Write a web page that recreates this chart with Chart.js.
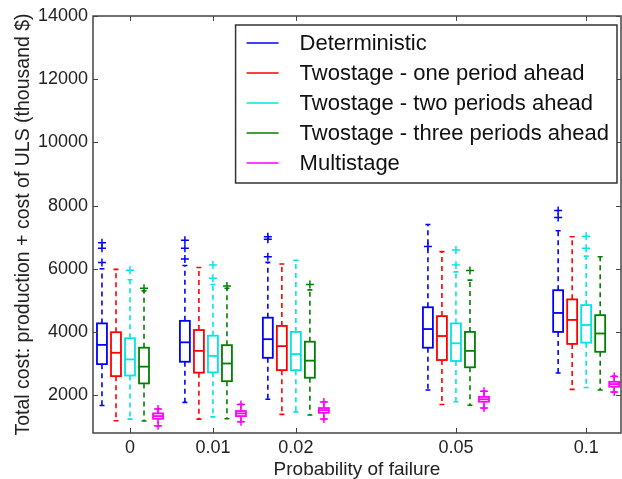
<!DOCTYPE html>
<html>
<head>
<meta charset="utf-8">
<script src="https://cdn.jsdelivr.net/npm/chart.js@4.4.0/dist/chart.umd.min.js"></script>
<style>
  html, body { margin: 0; padding: 0; background: #fff; }
</style>
</head>
<body>
<canvas id="box-chart" width="622" height="479"></canvas>
<script>
// categorias del eje x y su posicion en el eje
var categories = ['0', '0.01', '0.02', '0.05', '0.1'];
var positions = [1, 2, 3, 4.93, 6.5];
var yTicks = [2000, 4000, 6000, 8000, 10000, 12000, 14000];

var seriesNames = [
  'Deterministic',
  'Twostage - one period ahead',
  'Twostage - two periods ahead',
  'Twostage - three periods ahead',
  'Multistage'
];
var seriesColors = ['#0000ff', '#ff0000', '#00e5e5', '#008000', '#ff00ff'];

// por categoria: [bigote inferior, q1, mediana, q3, bigote superior]
var deterministic = [
  [1670, 2980, 3590, 4270, 6000],
  [1770, 3055, 3670, 4350, 6100],
  [1870, 3180, 3770, 4450, 6200],
  [2160, 3500, 4090, 4780, 7400],
  [2700, 4000, 4600, 5320, 7200]
];
var oneAhead = [
  [1190, 2600, 3340, 3990, 5980],
  [1240, 2710, 3400, 4060, 6040],
  [1390, 2790, 3550, 4190, 6150],
  [1700, 3110, 3870, 4500, 6540],
  [2180, 3620, 4380, 5030, 7010]
];
var twoAhead = [
  [1240, 2620, 3130, 3800, 5650],
  [1310, 2720, 3240, 3880, 5500],
  [1470, 2790, 3300, 4000, 6270],
  [1790, 3080, 3640, 4270, 5900],
  [2240, 3660, 4220, 4850, 6400]
];
var threeAhead = [
  [1180, 2370, 2900, 3500, 5300],
  [1250, 2440, 3000, 3580, 5380],
  [1370, 2550, 3090, 3690, 5330],
  [1680, 2880, 3400, 4000, 5640],
  [2160, 3370, 3950, 4530, 6380]
];
var multistage = [
  [1020, 1250, 1335, 1420, 1570],
  [1155, 1335, 1420, 1495, 1705],
  [1230, 1440, 1525, 1590, 1790],
  [1580, 1790, 1870, 1945, 2130],
  [2095, 2265, 2350, 2420, 2600]
];

// valores atipicos (+)
var deterministicOut = [[6200, 6650, 6820], [6310, 6650, 6900], [6380, 6930, 7010], [6700], [7620, 7840]];
var oneAheadOut = [[], [], [], [], []];
var twoAheadOut = [[5950], [5700, 6120], [], [6120, 6590], [6650, 7030]];
var threeAheadOut = [[5380], [5450], [5500], [5940], []];
var multistageOut = [[1560, 1030], [1700, 1160], [1780, 1240], [2120, 1590], [2590, 2100]];

var allStats = [deterministic, oneAhead, twoAhead, threeAhead, multistage];
var allOut = [deterministicOut, oneAheadOut, twoAheadOut, threeAheadOut, multistageOut];

var boxOffset = 0.169;
var boxWidth = 0.12;
var fontFamily = '"Liberation Sans", Arial, sans-serif';

var datasets = seriesNames.map(function (name, s) {
  var pts = [];
  allOut[s].forEach(function (vals, i) {
    vals.forEach(function (v) {
      pts.push({ x: positions[i] + (s - 2) * boxOffset, y: v });
    });
  });
  return {
    label: name,
    data: pts,
    stats: allStats[s],
    seriesIndex: s,
    borderColor: seriesColors[s],
    backgroundColor: seriesColors[s],
    pointStyle: 'cross',
    pointRadius: 4,
    borderWidth: 1.5
  };
});

// dibuja las cajas con las escalas del grafico
var boxPlugin = {
  id: 'boxes',
  beforeDatasetsDraw: function (chart) {
    var ctx = chart.ctx;
    var x = chart.scales.x;
    var y = chart.scales.y;
    var half = Math.abs(x.getPixelForValue(boxWidth / 2) - x.getPixelForValue(0));
    chart.data.datasets.forEach(function (ds) {
      ds.stats.forEach(function (st, i) {
        var cx = x.getPixelForValue(positions[i] + (ds.seriesIndex - 2) * boxOffset);
        var lo = y.getPixelForValue(st[0]);
        var q1 = y.getPixelForValue(st[1]);
        var med = y.getPixelForValue(st[2]);
        var q3 = y.getPixelForValue(st[3]);
        var hi = y.getPixelForValue(st[4]);
        ctx.save();
        ctx.strokeStyle = ds.borderColor;
        ctx.lineWidth = 1.6;
        // bigotes
        ctx.setLineDash([5, 4]);
        ctx.beginPath();
        ctx.moveTo(cx, q3); ctx.lineTo(cx, hi);
        ctx.moveTo(cx, q1); ctx.lineTo(cx, lo);
        ctx.stroke();
        ctx.setLineDash([]);
        ctx.beginPath();
        ctx.moveTo(cx - half / 2, hi); ctx.lineTo(cx + half / 2, hi);
        ctx.moveTo(cx - half / 2, lo); ctx.lineTo(cx + half / 2, lo);
        ctx.stroke();
        // caja y mediana
        ctx.lineWidth = 1.8;
        ctx.strokeRect(cx - half, q3, half * 2, q1 - q3);
        ctx.beginPath();
        ctx.moveTo(cx - half, med); ctx.lineTo(cx + half, med);
        ctx.stroke();
        ctx.restore();
      });
    });
  },
  afterDraw: function (chart) {
    var ctx = chart.ctx;
    var a = chart.chartArea;
    var x = chart.scales.x;
    var y = chart.scales.y;
    ctx.save();
    ctx.strokeStyle = '#444';
    ctx.lineWidth = 1.5;
    ctx.strokeRect(a.left, a.top, a.right - a.left, a.bottom - a.top);
    ctx.lineWidth = 1;
    ctx.beginPath();
    x.ticks.forEach(function (t) {
      var px = Math.round(x.getPixelForValue(t.value)) + 0.5;
      ctx.moveTo(px, a.bottom); ctx.lineTo(px, a.bottom - 5);
      ctx.moveTo(px, a.top); ctx.lineTo(px, a.top + 5);
    });
    y.ticks.forEach(function (t) {
      var py = Math.round(y.getPixelForValue(t.value)) + 0.5;
      ctx.moveTo(a.left, py); ctx.lineTo(a.left + 5, py);
      ctx.moveTo(a.right, py); ctx.lineTo(a.right - 5, py);
    });
    ctx.stroke();

    // leyenda
    ctx.font = '22px ' + fontFamily;
    var maxW = 0;
    chart.data.datasets.forEach(function (ds) {
      maxW = Math.max(maxW, ctx.measureText(ds.label).width);
    });
    var boxW = 11 + 32 + 21 + maxW + 8;
    var rowH = 30;
    var boxH = chart.data.datasets.length * rowH + 8;
    var left = a.right - 4 - boxW;
    var top = a.top + 9;
    ctx.fillStyle = '#fff';
    ctx.fillRect(left, top, boxW, boxH);
    ctx.strokeStyle = '#333';
    ctx.lineWidth = 1.5;
    ctx.strokeRect(left, top, boxW, boxH);
    ctx.textBaseline = 'middle';
    chart.data.datasets.forEach(function (ds, k) {
      var cy = top + 18 + k * rowH;
      ctx.strokeStyle = ds.borderColor;
      ctx.lineWidth = 1.5;
      ctx.beginPath();
      ctx.moveTo(left + 11, cy); ctx.lineTo(left + 43, cy);
      ctx.stroke();
      ctx.fillStyle = '#111';
      ctx.fillText(ds.label, left + 64, cy + 1);
    });
    ctx.restore();
  }
};

var ctx = document.getElementById('box-chart').getContext('2d');
var boxChart = new Chart(ctx, {
  type: 'scatter',
  data: { datasets: datasets },
  options: {
    responsive: false,
    animation: false,
    devicePixelRatio: 1,
    layout: { autoPadding: false, padding: { left: 0, top: 16, right: 1, bottom: 0 } },
    plugins: {
      legend: { display: false },
      tooltip: { enabled: false }
    },
    scales: {
      x: {
        type: 'linear',
        min: 0.554,
        max: 6.92,
        afterBuildTicks: function (scale) {
          scale.ticks = positions.map(function (p) { return { value: p }; });
        },
        afterFit: function (scale) {
          scale.height = 46;
          scale.paddingLeft = 0;
          scale.paddingRight = 0;
        },
        grid: { display: false, drawTicks: false },
        border: { display: false },
        ticks: {
          autoSkip: false,
          maxRotation: 0,
          padding: 4,
          color: '#222',
          font: { family: fontFamily, size: 18 },
          callback: function (v, i) { return categories[i]; }
        },
        title: {
          display: true,
          text: 'Probability of failure',
          color: '#222',
          padding: { top: 0, bottom: 0 },
          font: { family: fontFamily, size: 19, lineHeight: 1 }
        }
      },
      y: {
        min: 800,
        max: 14000,
        afterBuildTicks: function (scale) {
          scale.ticks = yTicks.map(function (v) { return { value: v }; });
        },
        afterFit: function (scale) {
          scale.width = 93;
          scale.paddingTop = 0;
          scale.paddingBottom = 0;
        },
        grid: { display: false, drawTicks: false },
        border: { display: false },
        ticks: {
          padding: 5,
          color: '#222',
          font: { family: fontFamily, size: 18 },
          callback: function (v) { return String(v); }
        },
        title: {
          display: true,
          text: 'Total cost: production + cost of ULS (thousand $)',
          color: '#222',
          padding: { top: 12, bottom: 0 },
          font: { family: fontFamily, size: 19.5 }
        }
      }
    }
  },
  plugins: [boxPlugin]
});
</script>
</body>
</html>
